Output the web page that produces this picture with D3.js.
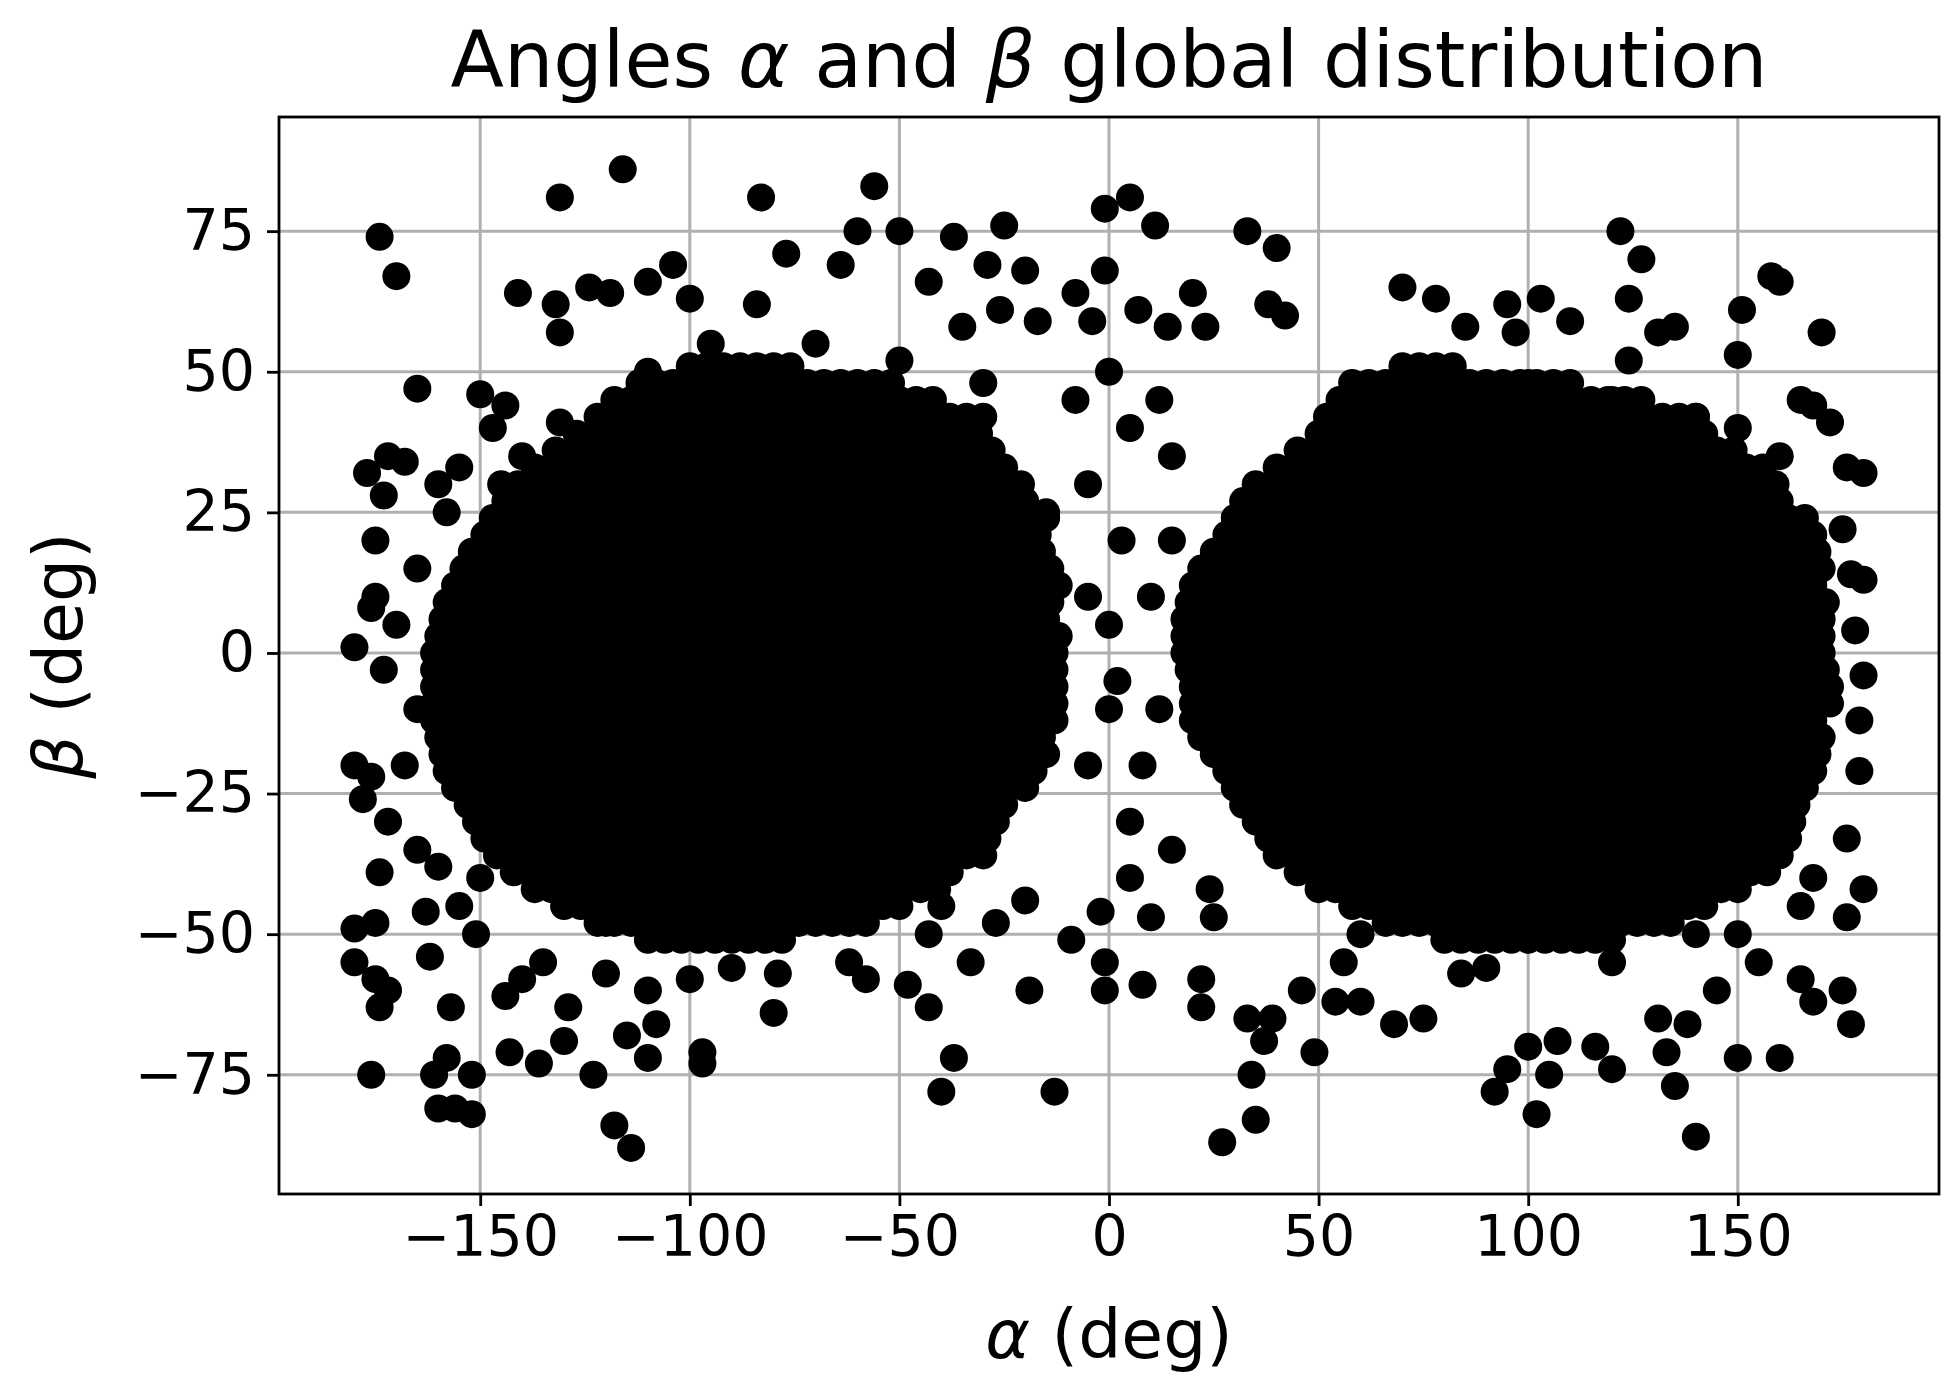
<!DOCTYPE html>
<html>
<head>
<meta charset="utf-8">
<title>Angles alpha and beta</title>
<script src="https://cdn.jsdelivr.net/npm/d3@7"></script>
<style>
  body { margin: 0; background: #fff; }
  text { font-family: "DejaVu Sans", sans-serif; fill: #000; }
</style>
</head>
<body>
<script>
// dense regions, read row by row: [beta, leftStart, leftEnd, rightStart, rightEnd]
var denseRows = [
  [51, -100, -75, 70, 85], [48, -112, -50, 58, 110],
  [45, -118, -40, 55, 130], [42, -122, -30, 52, 140], [39, -127, -28, 50, 145],
  [36, -132, -25, 45, 152], [33, -137, -22, 40, 157], [30, -141, -20, 35, 160],
  [27, -144, -18, 32, 163], [24, -147, -15, 30, 166], [21, -149, -15, 28, 168],
  [18, -152, -15, 25, 170], [15, -154, -13, 22, 171], [12, -156, -12, 20, 171],
  [9, -158, -12, 19, 172], [6, -159, -12, 18, 173], [3, -160, -11, 18, 173],
  [0, -161, -10, 18, 173], [-3, -161, -10, 19, 173], [-6, -161, -10, 20, 173],
  [-9, -161, -11, 20, 172], [-12, -161, -12, 20, 171], [-15, -160, -13, 22, 171],
  [-18, -159, -15, 25, 170], [-21, -158, -18, 28, 169], [-24, -156, -20, 30, 168],
  [-27, -153, -22, 32, 166], [-30, -151, -25, 35, 165], [-33, -149, -28, 38, 163],
  [-36, -146, -30, 40, 161], [-39, -142, -35, 45, 157], [-42, -137, -40, 50, 152],
  [-45, -130, -48, 58, 145], [-48, -122, -58, 66, 135], [-51, -110, -75, 80, 120]
];
var denseStep = 4;

// scattered points outside the solid regions
var outlierAlpha = [-174,-170,-165,-177,-172,-168,-180,-176,-180,-178,-180,-180,-175,-174,-176,-172,-175,-174,-172,-176,-175,-173,-175,-173,
-160,-156,-152,-152,-158,-161,-157,-162,-163,-155,-151,-150,-147,-141,-144,-136,-143,-144,-140,-131,-132,-131,-131,-130,-129,-124,-119,-116,-123,-118,-114,-115,-110,-108,-97,-97,-110,-104,-100,-84,-83,-77,-64,-60,-56,-50,-43,-37,-35,-25,-29,-26,-20,-17,-8,-4,-1,-1,5,11,7,14,20,23,
-79,-80,-62,-58,-48,-43,-43,-40,-37,-33,-27,-20,-19,-13,-9,-2,-1,-1,8,10,22,22,27,25,24,33,34,35,37,39,46,49,33,38,40,42,70,78,85,95,97,103,110,122,124,127,124,131,135,150,151,158,160,170,165,168,172,176,180,175,177,180,178,180,179,179,176,180,176,175,177,165,168,160,150,140,135,133,138,131,120,116,105,102,100,95,92,107,75,68,60,54,56,84,90,
-120,-135,-110,-100,-90,-120,-150,-155,-160,-158,-165,-170,-165,-168,-165,-160,5,3,0,0,-5,5,10,8,-5,15,12,-8,0,2,12,-5,15,15,5,-15,160,165,162,168,165,150,155,145,-145,-140,-110,-95,-70,-50,-30,80,100,120,140,150,-60,-40,-100,60,140,120];
var outlierBeta = [74,67,47,32,35,34,1,8,-20,-26,-49,-55,-58,-63,-75,-60,-48,-39,-30,-22,20,28,10,-3,
-81,-81,-82,-75,-72,-75,-63,-54,-46,-45,-50,46,40,64,44,-73,-71,-61,-58,81,62,57,41,-69,-63,65,64,86,-75,-84,-88,-68,-72,-66,-71,-73,66,69,63,62,81,71,69,75,83,75,66,74,58,76,69,61,68,59,64,59,79,68,81,76,61,58,64,58,
-57,-64,-55,-58,-59,-63,-50,-78,-72,-55,-48,-44,-60,-78,-51,-46,-55,-60,-59,-47,-58,-63,-87,-47,-42,-65,-75,-83,-69,-65,-60,-71,75,62,72,60,65,63,58,62,57,63,59,75,63,70,52,57,58,53,61,67,66,57,45,44,41,33,32,22,14,13,4,-4,-12,-21,-33,-42,-47,-60,-66,-58,-62,-72,-72,-86,-77,-71,-66,-65,-74,-70,-75,-82,-70,-74,-78,-69,-65,-66,-62,-62,-55,-57,-56,
-57,-55,-60,-58,-56,-48,-40,33,30,25,15,5,-10,-20,-35,-38,40,20,5,-10,-20,-30,10,-20,30,35,45,45,50,-5,-10,10,20,-35,-40,25,35,20,-30,-40,-45,-50,-55,-60,30,35,50,55,55,52,48,50,48,45,42,40,-45,-45,-50,-50,-50,-55];

var xTicks = [-150, -100, -50, 0, 50, 100, 150];
var yTicks = [-75, -50, -25, 0, 25, 50, 75];

var points = [];
denseRows.forEach(function(r) {
  [[r[1], r[2]], [r[3], r[4]]].forEach(function(s) {
    for (var a = s[0]; a <= s[1]; a += denseStep) points.push([a, r[0]]);
  });
});
outlierAlpha.forEach(function(a, i) { points.push([a, outlierBeta[i]]); });

var W = 1958, H = 1393;
var L = 279, R = 1939, T = 117, B = 1194;
var svg = d3.select("body").append("svg").attr("width", W).attr("height", H);

var x = d3.scaleLinear().domain([-198, 198]).range([L, R]);
var y = d3.scaleLinear().domain([-96.2, 95.3]).range([B, T]);

var grid = svg.append("g").attr("stroke", "#b0b0b0").attr("stroke-width", 3);
xTicks.forEach(function(t) {
  grid.append("line").attr("x1", x(t)).attr("x2", x(t)).attr("y1", T).attr("y2", B);
});
yTicks.forEach(function(t) {
  grid.append("line").attr("y1", y(t)).attr("y2", y(t)).attr("x1", L).attr("x2", R);
});

var plot = svg.append("g");
plot.selectAll("circle").data(points).enter().append("circle")
  .attr("cx", function(d) { return x(d[0]); })
  .attr("cy", function(d) { return y(d[1]); })
  .attr("r", 14)
  .attr("fill", "#000");

var fmt = function(d) { return d < 0 ? "\u2212" + Math.abs(d) : d; };
var xa = svg.append("g").attr("transform", "translate(0," + B + ")")
  .call(d3.axisBottom(x).tickValues(xTicks).tickFormat(fmt).tickSize(12).tickPadding(10));
var ya = svg.append("g").attr("transform", "translate(" + L + ",0)")
  .call(d3.axisLeft(y).tickValues(yTicks).tickFormat(fmt).tickSize(12).tickPadding(12));
[xa, ya].forEach(function(g) {
  g.select(".domain").remove();
  g.selectAll("line").attr("stroke", "#000").attr("stroke-width", 2.8);
  g.selectAll("text").style("font-family", "DejaVu Sans").style("font-size", "57px");
});

svg.append("rect").attr("x", L).attr("y", T).attr("width", R - L).attr("height", B - T)
  .attr("fill", "none").attr("stroke", "#000").attr("stroke-width", 2.8);

var title = svg.append("text").attr("x", (L + R) / 2).attr("y", 87)
  .attr("text-anchor", "middle").style("font-size", "78px");
title.append("tspan").text("Angles ");
title.append("tspan").attr("font-style", "italic").text("\u03b1");
title.append("tspan").text(" and ");
title.append("tspan").attr("font-style", "italic").text("\u03b2");
title.append("tspan").text(" global distribution");

var xl = svg.append("text").attr("x", (L + R) / 2).attr("y", 1358)
  .attr("text-anchor", "middle").style("font-size", "68px");
xl.append("tspan").attr("font-style", "italic").text("\u03b1");
xl.append("tspan").text(" (deg)");

var yl = svg.append("text").attr("transform", "translate(82," + (T + B) / 2 + ") rotate(-90)")
  .attr("text-anchor", "middle").style("font-size", "68px");
yl.append("tspan").attr("font-style", "italic").text("\u03b2");
yl.append("tspan").text(" (deg)");
</script>
</body>
</html>
